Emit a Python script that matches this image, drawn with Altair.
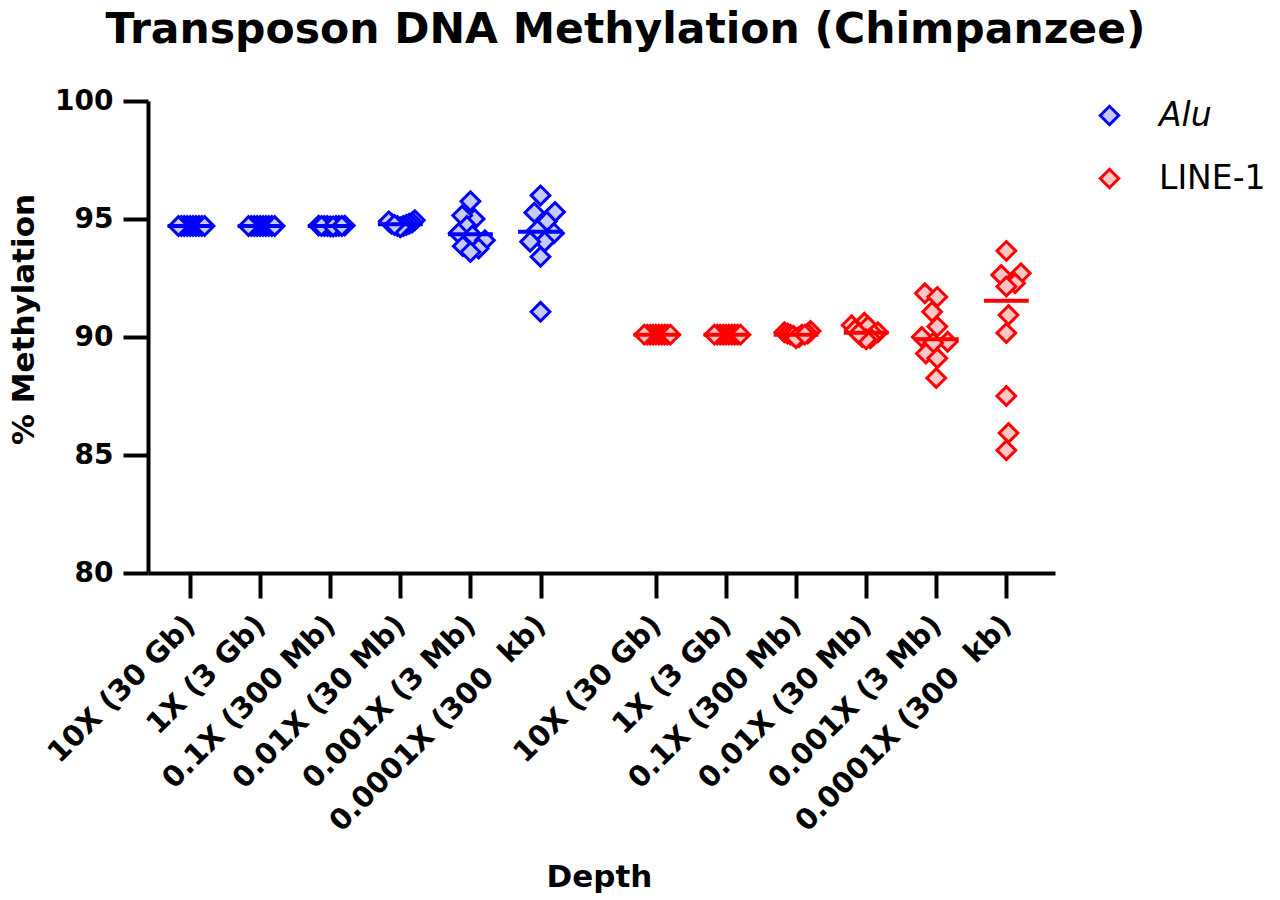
import json
import altair as alt
import pandas as pd

# ---------------- data ----------------
depth_labels = ["10X (30 Gb)", "1X (3 Gb)", "0.1X (300 Mb)", "0.01X (30 Mb)",
                "0.001X (3 Mb)", "0.0001X (300\u00a0 kb)"]
series_names = ["Alu", "LINE-1"]

alu_10x = [94.7] * 10
alu_1x = [94.7] * 10
alu_01x = [94.7, 94.7, 94.7, 94.72, 94.68, 94.7, 94.7, 94.72, 94.68, 94.7]
alu_001x = [94.95, 94.85, 94.8, 94.75, 94.7, 94.7, 94.65, 94.8, 94.9, 94.75]
alu_0001x = [95.75, 95.0, 95.15, 94.7, 94.4, 94.3, 94.1, 93.85, 93.75, 93.6]
alu_00001x = [96.0, 95.3, 95.27, 94.89, 94.53, 94.4, 94.04, 94.04, 93.4, 91.07]

line_10x = [90.1] * 10
line_1x = [90.1] * 10
line_01x = [90.25, 90.2, 90.15, 90.1, 90.1, 90.05, 90.0, 89.95, 90.15, 90.1]
line_001x = [90.6, 90.5, 90.45, 90.3, 90.2, 90.1, 90.0, 89.95, 89.9, 90.15]
line_0001x = [91.85, 91.7, 91.07, 90.44, 90.0, 89.8, 89.75, 89.3, 89.1, 88.26]
line_00001x = [93.65, 92.7, 92.63, 92.28, 92.14, 90.93, 90.17, 87.5, 85.93, 85.2]

alu_groups = [alu_10x, alu_1x, alu_01x, alu_001x, alu_0001x, alu_00001x]
line_groups = [line_10x, line_1x, line_01x, line_001x, line_0001x, line_00001x]

group_gap = 0.646          # extra gap between the Alu block and the LINE-1 block (category units)
y_ticks = [80, 85, 90, 95, 100]

# ---------------- column scatter arrangement (Prism-like) ----------------
PX_X = 70.1   # px per category unit
PX_Y = 23.6   # px per % unit


def swarm(vals, d=21.0, max_half=14.5):
    order = sorted(range(len(vals)), key=lambda i: (vals[i], i))
    placed, xs = [], [0.0] * len(vals)
    cands = [0.0]
    for s in range(1, 100):
        cands += [s * 1.5, -s * 1.5]
    for i in order:
        y = vals[i] * PX_Y
        for c in cands:
            if all(abs(c - px) + abs(y - py) >= d for px, py in placed):
                break
        placed.append((c, y))
        xs[i] = c
    m = max(abs(v) for v in xs)
    k = min(1.0, max_half / m) if m > 0 else 1.0
    return [v * k / PX_X for v in xs]


rows = []
positions = []
for s_idx, (name, groups) in enumerate(zip(series_names, [alu_groups, line_groups])):
    for g_idx, vals in enumerate(groups):
        pos = s_idx * (6 + group_gap) + g_idx
        positions.append(pos)
        for v, off in zip(vals, swarm(vals)):
            rows.append({"series": name, "depth": depth_labels[g_idx], "pos": pos,
                         "xpos": pos + off, "value": v})
df = pd.DataFrame(rows)

FONT = "DejaVu Sans"
label_expr = (f"{json.dumps(depth_labels)}"
              f"[datum.value < 5.5 ? round(datum.value) : round(datum.value - {6 + group_gap})]")

x_scale = alt.Scale(domain=[-0.6, 12.34], nice=False, zero=False)
y_scale = alt.Scale(domain=[80, 100], nice=False, zero=False)
stroke_scale = alt.Scale(domain=series_names, range=["#0000ff", "#ff0000"])
fill_scale = alt.Scale(domain=series_names, range=["#c6caff", "#ffc6c6"])

x_axis = alt.Axis(values=positions, labelExpr=label_expr, labelAngle=315, labelAlign="right",
                  labelBaseline="middle", labelFont=FONT, labelFontSize=29, labelFontWeight="bold",
                  labelColor="black", labelPadding=22, labelLimit=0, tickSize=25, tickWidth=4,
                  tickColor="black", domainWidth=4, domainColor="black", grid=False, title="Depth",
                  titleFont=FONT, titleFontSize=31, titleFontWeight="bold", titleColor="black",
                  titleX=451, titleY=304, titleBaseline="middle", labelOverlap=False, labelBound=False)
y_axis = alt.Axis(values=y_ticks, labelFont=FONT, labelFontSize=28, labelFontWeight="bold",
                  labelColor="black", labelPadding=10, tickSize=25, tickWidth=4, tickColor="black",
                  domainWidth=4, domainColor="black", grid=False, title="% Methylation",
                  titleFont=FONT, titleFontSize=31, titleFontWeight="bold", titleColor="black",
                  titleX=-124, titleY=218, titleBaseline="middle", titleAngle=270)

legend = alt.Legend(orient="none", legendX=945, legendY=-2, title=None, labelFont=FONT,
                    labelFontSize=33, labelColor="black", symbolType="diamond", symbolSize=340,
                    symbolStrokeWidth=3, labelOffset=33, rowPadding=29,
                    labelFontStyle=alt.ExprRef(
                        expr=f"datum.label == '{series_names[0]}' ? 'italic' : 'normal'"))

points = alt.Chart(df).mark_point(shape="diamond", size=350, strokeWidth=3, opacity=1,
                                  fillOpacity=1).encode(
    x=alt.X("xpos:Q", scale=x_scale, axis=x_axis),
    y=alt.Y("value:Q", scale=y_scale, axis=y_axis),
    stroke=alt.Stroke("series:N", scale=stroke_scale, legend=legend),
    fill=alt.Fill("series:N", scale=fill_scale, legend=legend),
)

medians = alt.Chart(df).transform_aggregate(
    med="median(value)", groupby=["series", "pos"]
).transform_calculate(
    x1="datum.pos - 0.32", x2="datum.pos + 0.32"
).mark_rule(strokeWidth=4).encode(
    x=alt.X("x1:Q", scale=x_scale),
    x2="x2:Q",
    y=alt.Y("med:Q", scale=y_scale),
    stroke=alt.Stroke("series:N", scale=stroke_scale, legend=None),
)

chart = alt.layer(points, medians).properties(
    width=907, height=472,
    background="white",
    autosize=alt.AutoSizeParams(type="none"),
    padding={"left": 148, "top": 101, "right": 225, "bottom": 327},
    title=alt.TitleParams("Transposon DNA Methylation (Chimpanzee)", font=FONT, fontSize=42.5,
                          fontWeight="bold", color="black", anchor="middle", frame="group",
                          dx=24, offset=36),
).configure_view(stroke=None)

chart.save("out.html", embed_options={"renderer": "svg", "actions": False})
